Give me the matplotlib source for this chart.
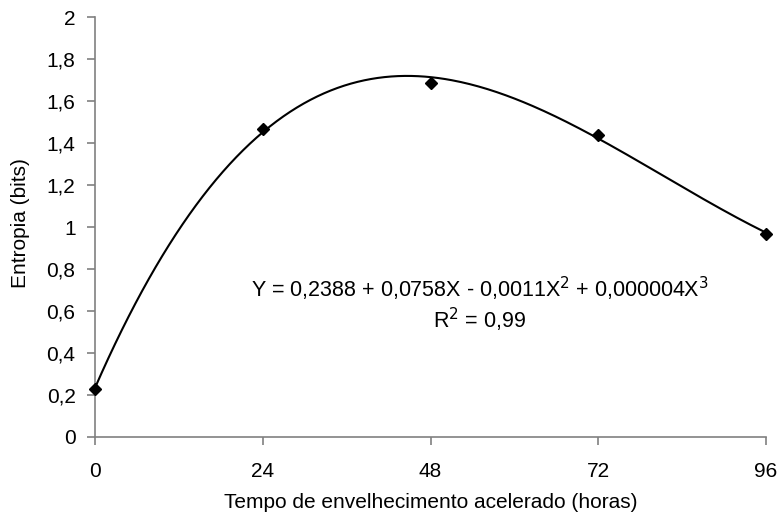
import numpy as np
import matplotlib
matplotlib.use("Agg")
import matplotlib.pyplot as plt

plt.rcParams['font.family'] = ['Liberation Sans', 'DejaVu Sans']

hours = [0, 24, 48, 72, 96]
entropy = [0.23, 1.47, 1.69, 1.44, 0.97]
x_ticks = [0, 24, 48, 72, 96]
y_ticks = [0, 0.2, 0.4, 0.6, 0.8, 1.0, 1.2, 1.4, 1.6, 1.8, 2.0]
y_tick_labels = ['0', '0,2', '0,4', '0,6', '0,8', '1', '1,2', '1,4', '1,6', '1,8', '2']

fig = plt.figure(figsize=(7.78, 5.21), dpi=100)
ax = fig.add_axes([95/778, 1-437/521, (766-95)/778, (437-17.5)/521])

# cubic trendline fitted from the data
coef = np.polyfit(hours, entropy, 3)
xs = np.linspace(0, 96, 300)
ax.plot(xs, np.polyval(coef, xs), color='black', lw=1.5, zorder=2)
ax.plot(hours, entropy, linestyle='none', marker='D', ms=6.5, color='black', zorder=3, clip_on=False)

ax.set_xlim(0, 96)
ax.set_ylim(0, 2)
ax.set_xticks(x_ticks)
ax.set_xticklabels([str(v) for v in x_ticks])
ax.set_yticks(y_ticks)
ax.set_yticklabels(y_tick_labels)
for s in ['top', 'right']:
    ax.spines[s].set_visible(False)
for s in ['left', 'bottom']:
    ax.spines[s].set_color('#808080')
    ax.spines[s].set_linewidth(1.2)
ax.tick_params(direction='out', length=6, width=1.2, color='#808080', labelsize=15)
ax.tick_params(axis='y', pad=8)
ax.tick_params(axis='x', pad=12)

ax.set_xlabel('Tempo de envelhecimento acelerado (horas)', fontsize=15)
ax.set_ylabel('Entropia (bits)', fontsize=15)
ax.xaxis.set_label_coords(0.5, -0.134)
ax.yaxis.set_label_coords(-0.097, 0.51)

ax.text(0.574, 0.353, r'Y = 0,2388 + 0,0758X - 0,0011X$^{2}$ + 0,000004X$^{3}$',
        transform=ax.transAxes, ha='center', va='center', fontsize=15.5)
ax.text(0.573, 0.279, r'R$^{2}$ = 0,99', transform=ax.transAxes, ha='center', va='center', fontsize=15.5)

fig.savefig('out.png', dpi=100)
